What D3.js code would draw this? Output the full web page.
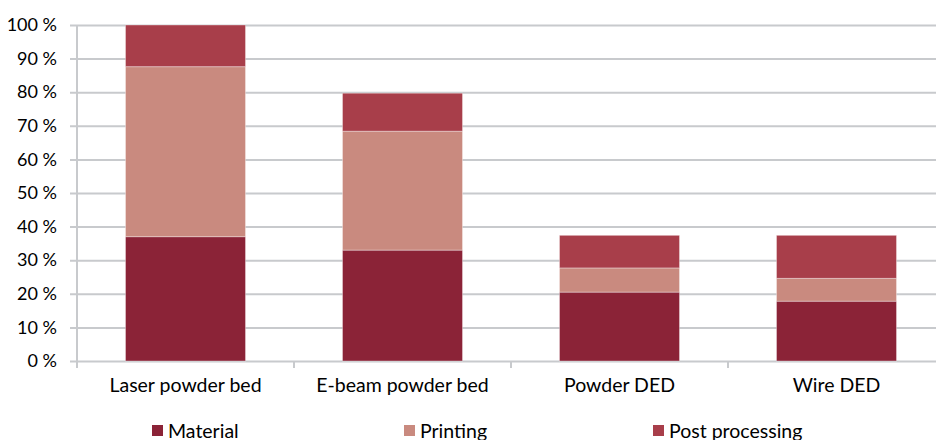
<!DOCTYPE html>
<html>
<head>
<meta charset="utf-8">
<script src="https://cdn.jsdelivr.net/npm/d3@7"></script>
<style>
  html, body { margin: 0; padding: 0; background: #fff; }
  svg { display: block; font-family: Lato, "Open Sans", sans-serif; }
</style>
</head>
<body>
<svg id="chart" width="936" height="440"></svg>
<script>
// Cost breakdown per process (% of laser powder bed total)
const categories = ["Laser powder bed", "E-beam powder bed", "Powder DED", "Wire DED"];
const seriesNames = ["Material", "Printing", "Post processing"];
const material = [37, 33, 20.5, 17.8];
const printing = [50.6, 35.4, 7.2, 6.8];
const postProcessing = [12.4, 11.3, 9.7, 12.8];
const yTicks = [0, 10, 20, 30, 40, 50, 60, 70, 80, 90, 100];
const colors = ["#8b2337", "#c98a7f", "#a83e4a"];

const rows = categories.map((c, i) => ({
  category: c,
  "Material": material[i],
  "Printing": printing[i],
  "Post processing": postProcessing[i]
}));

const svg = d3.select("#chart");
const plotLeft = 77, plotRight = 945, plotTop = 25, plotBottom = 361;

const x = d3.scaleBand()
  .domain(categories)
  .range([plotLeft, plotRight])
  .paddingInner(0.447)
  .paddingOuter(0.2235);

const y = d3.scaleLinear().domain([0, 100]).range([plotBottom, plotTop]);

const gridColor = "#c8cacd";

// horizontal gridlines with tick labels
const yAxis = svg.append("g")
  .attr("transform", `translate(${plotLeft},0)`)
  .call(d3.axisLeft(y).tickValues(yTicks).tickFormat(d => d + " %")
    .tickSize(-(936 - plotLeft)).tickSizeOuter(0).tickPadding(20));
yAxis.select(".domain").remove();
yAxis.selectAll(".tick line")
  .attr("x1", -7)
  .attr("stroke", gridColor)
  .attr("stroke-width", 2);
yAxis.selectAll(".tick text")
  .attr("fill", "#000")
  .attr("font-size", 18)
  .attr("font-family", "Lato, 'Open Sans', sans-serif");

// vertical axis line
svg.append("line")
  .attr("x1", plotLeft).attr("x2", plotLeft)
  .attr("y1", plotTop).attr("y2", plotBottom + 7)
  .attr("stroke", gridColor).attr("stroke-width", 2);

// stacked bars
const stack = d3.stack().keys(seriesNames);
const layers = stack(rows);

svg.append("g").selectAll("g")
  .data(layers)
  .join("g")
  .attr("fill", (d, i) => colors[i])
  .selectAll("rect")
  .data(d => d)
  .join("rect")
  .attr("x", d => x(d.data.category))
  .attr("width", x.bandwidth())
  .attr("y", d => y(d[1]))
  .attr("height", d => y(d[0]) - y(d[1]))
  .attr("stroke", "rgba(255,255,255,0.35)")
  .attr("stroke-width", 1);

// category axis
const step = x.step();
const xAxis = svg.append("g")
  .attr("transform", `translate(0,${plotBottom})`)
  .call(d3.axisBottom(x).tickSize(0).tickPadding(17));
xAxis.select(".domain").remove();
xAxis.selectAll(".tick text")
  .attr("fill", "#000")
  .attr("font-size", 19.5)
  .attr("font-family", "Lato, 'Open Sans', sans-serif");

// category separators
svg.append("g").selectAll("line")
  .data(categories.slice(1))
  .join("line")
  .attr("x1", d => x(d) - x.paddingInner() * step / 2)
  .attr("x2", d => x(d) - x.paddingInner() * step / 2)
  .attr("y1", plotBottom).attr("y2", plotBottom + 7)
  .attr("stroke", gridColor).attr("stroke-width", 2);

// legend
const legendX = [152, 404, 653];
const legend = svg.append("g").selectAll("g")
  .data(seriesNames)
  .join("g")
  .attr("transform", (d, i) => `translate(${legendX[i]},425)`);
legend.append("rect")
  .attr("width", 11).attr("height", 11)
  .attr("fill", (d, i) => colors[i]);
legend.append("text")
  .attr("x", 16).attr("y", 12.5)
  .attr("font-size", 19.5)
  .attr("fill", "#000")
  .text(d => d);
</script>
</body>
</html>
